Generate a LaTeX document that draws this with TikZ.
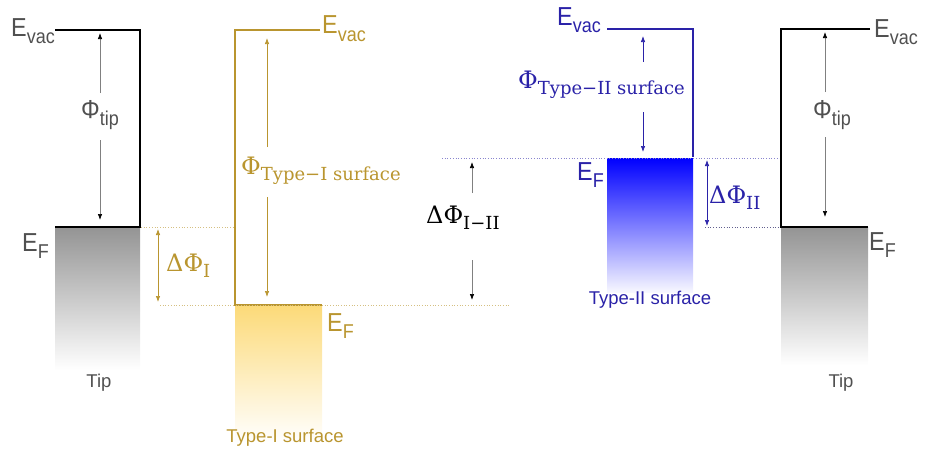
\documentclass[tikz,border=0pt]{standalone}
\usepackage{fontspec}
\setmainfont{Liberation Sans}
\newfontfamily\dvs{DejaVu Serif}
\usepackage{graphicx}
\usetikzlibrary{arrows.meta}
\definecolor{gold}{HTML}{B9952F}
\definecolor{goldfill}{HTML}{FCDA78}
\definecolor{navy}{HTML}{2A22A8}
\definecolor{tipgray}{HTML}{505050}
\newcommand{\lv}[2]{\scalebox{0.9}[1]{#1\raisebox{-0.3em}{\fontsize{20}{20}\selectfont #2}}}
\newcommand{\wf}[2]{{\dvs\fontsize{24}{24}\selectfont #1\raisebox{-6pt}{\fontsize{18}{18}\selectfont #2}}}
\begin{document}
\begin{tikzpicture}[x=1pt,y=-1pt,
  lvlab/.style={anchor=base west, inner sep=0pt, font=\fontsize{26}{26}\selectfont},
  wlab/.style={anchor=base west, inner sep=0pt},
  dlab/.style={inner sep=0pt, font=\fontsize{26}{26}\selectfont},
  caplab/.style={inner sep=0pt, font=\fontsize{18.5}{18.5}\selectfont},
  band/.style={line width=2.6pt},
  wfk/.style={draw=gray, line width=0.7pt, -{Latex[length=6pt,width=4.5pt,color=black]}},
  wfg/.style={draw=gold, line width=0.7pt, -{Latex[length=6pt,width=4.5pt]}},
  wfn/.style={draw=navy, line width=0.7pt, -{Latex[length=6pt,width=4.5pt]}},
  wfgb/.style={draw=gold, line width=0.7pt, {Latex[length=6pt,width=4.5pt]}-{Latex[length=6pt,width=4.5pt]}},
  wfnb/.style={draw=navy, line width=0.7pt, {Latex[length=6pt,width=4.5pt]}-{Latex[length=6pt,width=4.5pt]}},
  guide/.style={dotted, line width=0.7pt}
]
\useasboundingbox (0,0) rectangle (927,455);

% ---------- left tip ----------
\shade[top color=black!42, bottom color=white] (55,227) rectangle (140,370);
\draw[band, black] (55,30) -- (140,30) -- (140,227) -- (55,227);
\node[lvlab, tipgray] (lvacL) at (11,36) {\lv{E}{vac}};
\node[lvlab, tipgray] (lfL) at (22,251) {\lv{E}{F}};
\node[dlab, tipgray] (phitipL) at (100,115) {\lv{Φ}{tip}};
\coordinate (ptLa) at (100,93);  \coordinate (ptLt) at (100,33);
\coordinate (ptLb) at (100,140); \coordinate (ptLe) at (100,220);
\draw[wfk] (ptLa) -- (ptLt);
\draw[wfk] (ptLb) -- (ptLe);
\node[caplab, tipgray] (tipL) at (99,383) {Tip};

% ---------- type-I surface ----------
\shade[top color=goldfill, bottom color=white] (235,305) rectangle (322,442);
\draw[band, gold] (320,30) -- (235,30) -- (235,305) -- (322,305);
\draw[guide, gold!60] (141,227) -- (233,227);
\draw[guide, gold!60] (160,305) -- (510,305);
\node[lvlab, gold] (lvacI) at (322,34) {\lv{E}{vac}};
\node[lvlab, gold] (lfI) at (327,331) {\lv{E}{F}};
\node[wlab, gold] (phiI) at (241,174) {\wf{Φ}{Type−I surface}};
\coordinate (pIa) at (267,147); \coordinate (pIt) at (267,38);
\coordinate (pIb) at (267,197); \coordinate (pIe) at (267,297);
\draw[wfg] (pIa) -- (pIt);
\draw[wfg] (pIb) -- (pIe);
\coordinate (dIt) at (158,229); \coordinate (dIb) at (158,302);
\draw[wfgb] (dIt) -- (dIb);
\node[wlab, gold] (dphiI) at (166,271) {\wf{ΔΦ}{I}};
\node[caplab, gold] (capI) at (285,438) {Type-I surface};

% ---------- Delta Phi I-II ----------
\node[wlab, black] (dphiIII) at (426,223) {\wf{ΔΦ}{I−II}};
\coordinate (dma) at (472,193); \coordinate (dmt) at (472,162);
\coordinate (dmb) at (472,260); \coordinate (dme) at (472,300);
\draw[wfk] (dma) -- (dmt);
\draw[wfk] (dmb) -- (dme);

% ---------- type-II surface ----------
\shade[top color=blue, middle color=blue!62, bottom color=blue!3] (607,158) rectangle (693,292);
\draw[band, navy, line width=2.2pt] (607,29) -- (693,29) -- (693,157);
\draw[guide, navy!55] (442,158) -- (780,158);
\draw[guide, navy!35!gray] (705,227) -- (780,227);
\node[lvlab, navy] (lvacII) at (557,25) {\lv{E}{vac}};
\node[lvlab, navy] (lfII) at (577,180) {\lv{E}{F}};
\node[wlab, navy] (phiII) at (518,88) {\wf{Φ}{Type−II surface}};
\coordinate (pIIa) at (643,62);  \coordinate (pIIt) at (643,36);
\coordinate (pIIb) at (643,112); \coordinate (pIIe) at (643,152);
\draw[wfn] (pIIa) -- (pIIt);
\draw[wfn] (pIIb) -- (pIIe);
\coordinate (dIIt) at (707,160); \coordinate (dIIb) at (707,226);
\draw[wfnb] (dIIt) -- (dIIb);
\node[wlab, navy] (dphiII) at (709,203) {\wf{ΔΦ}{II}};
\node[caplab, navy] (capII) at (650,300) {Type-II surface};

% ---------- right tip ----------
\shade[top color=black!42, bottom color=white] (781,227) rectangle (868,365);
\draw[band, black] (870,29) -- (781,29) -- (781,227) -- (868,227);
\node[lvlab, tipgray] (lvacR) at (874,37) {\lv{E}{vac}};
\node[lvlab, tipgray] (lfR) at (869,250) {\lv{E}{F}};
\node[dlab, tipgray] (phitipR) at (832,115) {\lv{Φ}{tip}};
\coordinate (ptRa) at (825,92);  \coordinate (ptRt) at (825,32);
\coordinate (ptRb) at (825,137); \coordinate (ptRe) at (825,217);
\draw[wfk] (ptRa) -- (ptRt);
\draw[wfk] (ptRb) -- (ptRe);
\node[caplab, tipgray] (tipR) at (841,383) {Tip};
\end{tikzpicture}
\end{document}
